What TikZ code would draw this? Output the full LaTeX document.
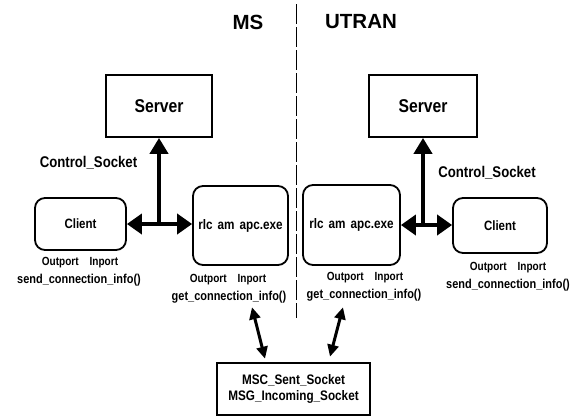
\documentclass[tikz,border=0pt]{standalone}
\usepackage{fontspec}
\setmainfont{Liberation Sans}
\newfontfamily\nf{Liberation Sans}[FakeStretch=0.85]
\usetikzlibrary{arrows.meta}
\newcommand\myfs[1]{\fontsize{#1}{#1}\selectfont}
\begin{document}
\begin{tikzpicture}[x=1pt,y=-1pt,
  box/.style={draw,line width=1.8pt,inner sep=0pt},
  rbox/.style={box,rounded corners=10pt},
  lbl/.style={inner sep=0pt,font=\nf\bfseries\myfs{12.9}},
  port/.style={inner sep=0pt,font=\nf\bfseries\myfs{11.8}},
  title/.style={inner sep=0pt,font=\bfseries\myfs{20.5}},
  big/.style={line width=4pt,-{Triangle[length=16pt,width=18pt]}},
  bigdbl/.style={line width=4pt,{Triangle[length=15pt,width=20pt]}-{Triangle[length=15pt,width=20pt]}},
  smalldbl/.style={line width=3pt,{Triangle[length=12pt,width=11pt]}-{Triangle[length=12pt,width=11pt]}}
]
\useasboundingbox (0,0) rectangle (580,418);

% titles and separator
\node[title] (ms) at (248,22) {MS};
\node[title] (utran) at (361,22) {UTRAN};
\draw[line width=0.7pt, dash pattern=on 20pt off 3pt] (296,4) -- (296,318);

% boxes
\node[box,minimum width=106pt,minimum height=62pt,font=\nf\bfseries\myfs{18.5}] (srvL) at (159,106) {Server};
\node[box,minimum width=108pt,minimum height=62pt,font=\nf\bfseries\myfs{18.5}] (srvR) at (423,106) {Server};
\node[rbox,minimum width=91pt,minimum height=52pt,font=\nf\bfseries\myfs{13.5}] (cliL) at (80.5,224) {Client};
\node[rbox,minimum width=95pt,minimum height=79pt,font=\nf\bfseries\myfs{13.8}] (rlcL) at (240.5,225.5) {rlc\hspace{5pt}am\hspace{5pt}apc.exe};
\node[rbox,minimum width=97pt,minimum height=80pt,font=\nf\bfseries\myfs{13.8}] (rlcR) at (351.5,225) {rlc\hspace{5pt}am\hspace{5pt}apc.exe};
\node[rbox,minimum width=94pt,minimum height=55pt,font=\nf\bfseries\myfs{13.5}] (cliR) at (500,225.5) {Client};
\node[box,line width=2.6pt,minimum width=153pt,minimum height=52pt,align=center,font=\nf\bfseries\fontsize{13.8}{15.5}\selectfont] (mbox) at (293.5,389) {MSC\_Sent\_Socket\\MSG\_Incoming\_Socket};

% labels
\node[lbl,font=\nf\bfseries\myfs{15.5}] (csL) at (88.5,163) {Control\_Socket};
\node[lbl,font=\nf\bfseries\myfs{15.5}] (csR) at (487,173) {Control\_Socket};
\node[port] (opL1) at (80,263) {Outport\hspace{11pt}Inport};
\node[lbl] (sendL) at (79,280) {send\_connection\_info()};
\node[port] (opL2) at (228,280) {Outport\hspace{11pt}Inport};
\node[lbl] (getL) at (229,297) {get\_connection\_info()};
\node[port] (opR2) at (365,278) {Outport\hspace{11pt}Inport};
\node[lbl] (getR) at (364,295) {get\_connection\_info()};
\node[port] (opR1) at (508,268) {Outport\hspace{11pt}Inport};
\node[lbl] (sendR) at (508,285) {send\_connection\_info()};

% connectors
\draw[bigdbl] (cliL.east) -- (cliL.east -| rlcL.west);
\draw[big] (cliL.east -| srvL.south) -- (srvL.south);
\draw[bigdbl] (rlcR.east) -- (rlcR.east -| cliR.west);
\draw[big] (rlcR.east -| srvR.south) -- (srvR.south);
\draw[smalldbl] ([xshift=23pt,yshift=-4pt]getL.south) -- ([xshift=-28.5pt,yshift=3pt]mbox.north);
\draw[smalldbl] ([xshift=-21pt,yshift=-6pt]getR.south) -- ([xshift=36.5pt,yshift=5pt]mbox.north);
\end{tikzpicture}
\end{document}
